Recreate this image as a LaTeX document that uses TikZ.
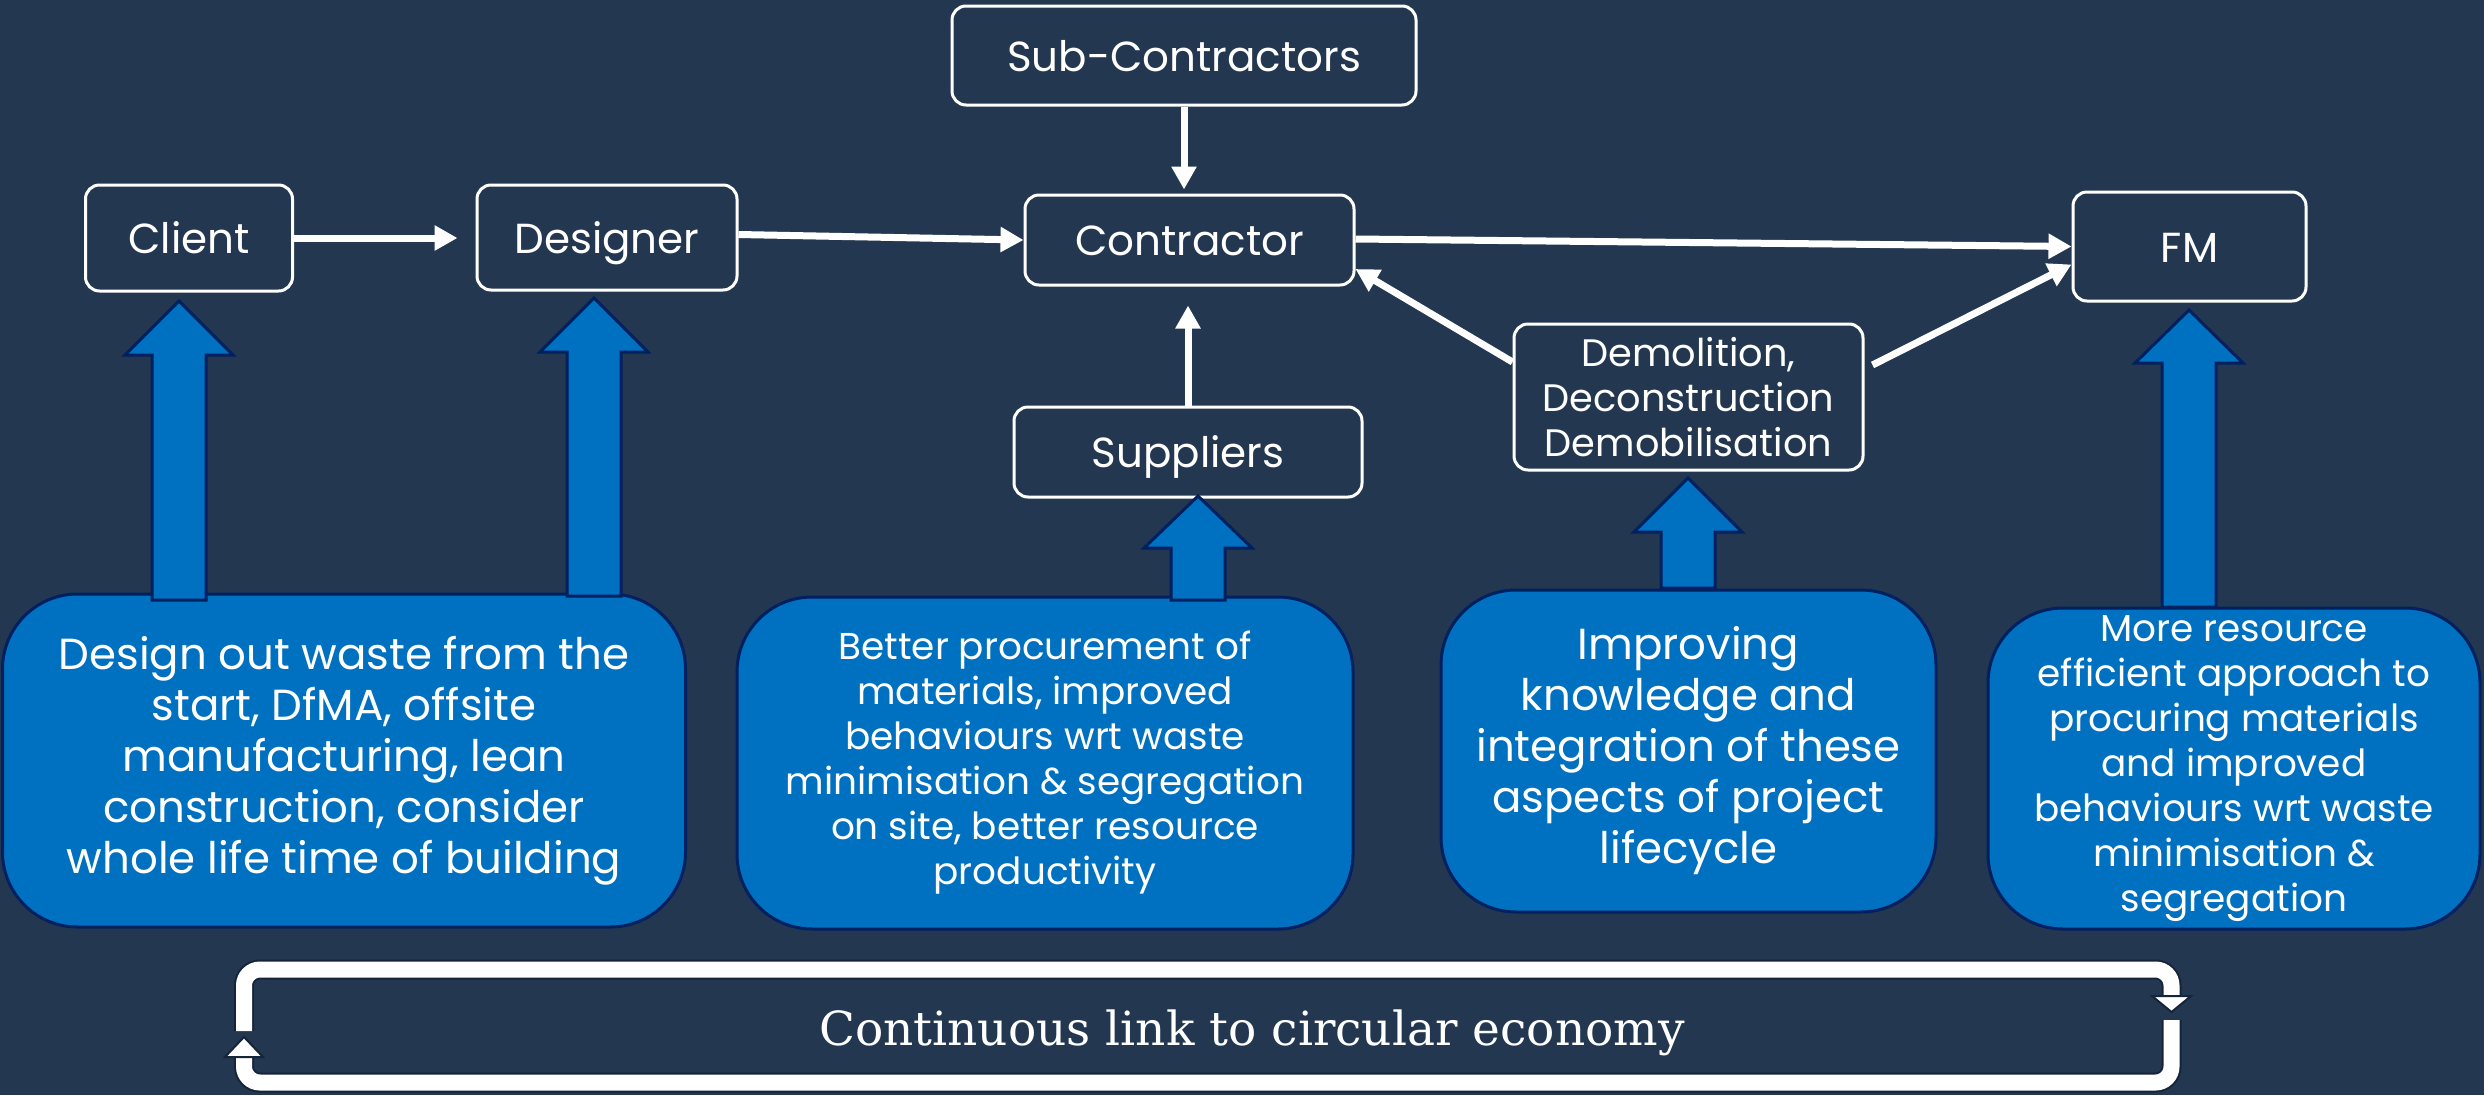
\documentclass[tikz,border=0pt]{standalone}
\usepackage{fontspec}
\setmainfont{Poppins}
\newfontfamily\loopfont{DejaVu Serif}
\usetikzlibrary{arrows.meta}
\definecolor{bg}{HTML}{233850}
\definecolor{blu}{HTML}{0070C0}
\definecolor{navy}{HTML}{002060}
\definecolor{edge}{HTML}{16243A}
\newcommand\blockup[4]{%
  \filldraw[fill=blu,draw=navy,line width=3pt,line join=miter]
    (#1,#2) -- (#1+54,#3) -- (#1+27,#3) -- (#1+27,#4) -- (#1-27,#4) -- (#1-27,#3) -- (#1-54,#3) -- cycle;}
\begin{document}
\begin{tikzpicture}[x=1pt,y=-1pt,
  wbox/.style={draw=white, line width=3pt, rounded corners=14pt, fill=bg, text=white, align=center, inner sep=0pt},
  bbox/.style={draw=navy, line width=3pt, rounded corners=75pt, fill=blu, text=white, align=center, inner sep=0pt},
  biglbl/.style={font=\fontsize{42}{50}\selectfont, text height=36pt, text depth=5pt},
  bigtxt/.style={font=\fontsize{43.5}{51}\selectfont},
  smalltxt/.style={font=\fontsize{37.4}{45}\selectfont},
  demotxt/.style={font=\fontsize{38.3}{45}\selectfont},
  flow/.style={draw=white, line width=7pt, -{Triangle[width=24pt,length=23pt]}},
  band/.style={line width=16pt, draw=white, rounded corners=16pt},
  bandedge/.style={line width=20pt, draw=edge, rounded corners=16pt},
  loophead/.style={fill=white, draw=edge, line width=2pt, line join=miter}
]
\fill[bg] (0,0) rectangle (2484,1095);
\useasboundingbox (0,0) rectangle (2484,1095);

% white nodes
\node[wbox, biglbl, minimum width=207pt, minimum height=106pt] (client) at (189,238) {Client};
\node[wbox, biglbl, minimum width=260pt, minimum height=105pt] (designer) at (607,237.5) {Designer};
\node[wbox, biglbl, minimum width=464pt, minimum height=99pt] (sub) at (1184,55.5) {Sub-Contractors};
\node[wbox, biglbl, minimum width=329pt, minimum height=90pt] (contractor) at (1189.5,240) {Contractor};
\node[wbox, biglbl, minimum width=233pt, minimum height=109pt] (fm) at (2189.5,246.5) {FM};
\node[wbox, biglbl, minimum width=348pt, minimum height=90pt] (suppliers) at (1188,452) {Suppliers};
\node[wbox, demotxt, minimum width=349pt, minimum height=146pt] (demo) at (1688.5,397) {Demolition,\\Deconstruction\\Demobilisation};

% blue boxes
\node[bbox, bigtxt, minimum width=683pt, minimum height=333pt] (b1) at (344,760.5) {Design out waste from the\\start, DfMA, offsite\\manufacturing, lean\\construction, consider\\whole life time of building};
\node[bbox, smalltxt, minimum width=616pt, minimum height=332pt] (b2) at (1045,763) {Better procurement of\\materials, improved\\behaviours wrt waste\\minimisation \& segregation\\on site, better resource\\productivity};
\node[bbox, bigtxt, minimum width=495pt, minimum height=322pt] (b3) at (1688.5,751) {Improving\\knowledge and\\integration of these\\aspects of project\\lifecycle};
\node[bbox, smalltxt, minimum width=492pt, minimum height=321pt] (b4) at (2234,768.5) {More resource\\efficient approach to\\procuring materials\\and improved\\behaviours wrt waste\\minimisation \&\\segregation};

% blue block arrows
\blockup{179}{301}{355}{600}
\blockup{594}{298}{352}{596}
\blockup{1198}{496}{548}{600}
\blockup{1688}{478}{532}{588}
\blockup{2189}{310}{363}{607}

% white flow arrows
\draw[flow, shorten >=18pt] (client.east) -- (client.east -| designer.west);
\draw[flow] ([yshift=3pt]designer.east) -- (contractor.west);
\draw[flow, shorten >=4pt] (sub.south) -- (sub.south |- contractor.north);
\draw[flow, shorten >=19pt] (suppliers.north) -- (suppliers.north |- contractor.south);
\draw[flow] ([yshift=1pt]contractor.east) -- (fm.west);
\draw[flow] ([yshift=35pt]demo.west) -- ([yshift=-29pt]contractor.east);
\draw[flow] ([xshift=8pt,yshift=32pt]demo.east) -- ([yshift=-18pt]fm.west);

% circular loop
\coordinate (lt) at (244,1031);
\coordinate (rt) at (2171.5,996);
\coordinate (rb) at (2171.5,1020);
\coordinate (lb) at (244,1057);
\draw[bandedge] (lt) -- (244,969.5) -- (2171.5,969.5) -- (rt);
\draw[band] (lt) -- (244,969.5) -- (2171.5,969.5) -- (rt);
\draw[bandedge] (rb) -- (2171.5,1082.5) -- (244,1082.5) -- (lb);
\draw[band] (rb) -- (2171.5,1082.5) -- (244,1082.5) -- (lb);
\draw[loophead] (2152,996) -- (2191,996) -- (2171.5,1012) -- cycle;
\draw[loophead] (225,1057) -- (263,1057) -- (244,1037) -- cycle;
\node[text=white, anchor=base, font=\loopfont\fontsize{47}{56}\selectfont] (loop) at (1252,1045) {Continuous link to circular economy};
\end{tikzpicture}
\end{document}
